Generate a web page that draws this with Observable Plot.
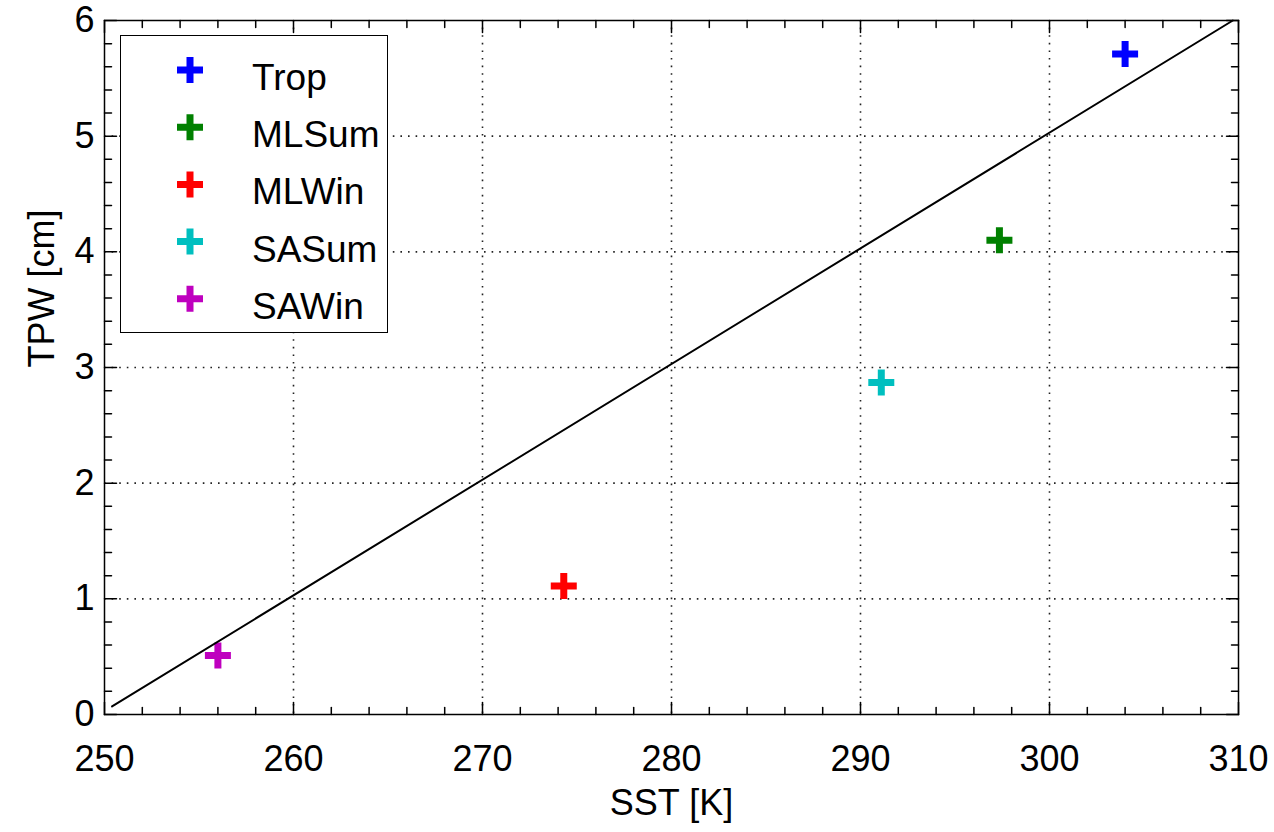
<!DOCTYPE html>
<html>
<head>
<meta charset="utf-8">
<script src="https://cdn.jsdelivr.net/npm/d3@7"></script>
<script src="https://cdn.jsdelivr.net/npm/@observablehq/plot@0.6"></script>
<style>
  html, body { margin: 0; padding: 0; background: #fff; }
  #wrap { position: relative; width: 1274px; height: 832px; font-family: "Liberation Sans", Arial, sans-serif; }
  #legend { position: absolute; left: 120px; top: 35px; width: 268px; height: 298px; box-sizing: border-box;
            border: 1.5px solid #000; background: #fff; }
  #legend svg { position: absolute; left: 0; top: 0; }
</style>
</head>
<body>
<div id="wrap"><div id="legend"></div></div>
<script>
// ---- data ----
const seriesNames  = ["Trop", "MLSum", "MLWin", "SASum", "SAWin"];
const seriesColors = ["#0000ff", "#008000", "#ff0000", "#00bfbf", "#bf00bf"];
const sstValues    = [304.0, 297.35, 274.3, 291.1, 256.0];   // SST [K]
const tpwValues    = [5.71, 4.10, 1.11, 2.87, 0.51];         // TPW [cm]

// fitted line end points
const fitSST = [250.4, 309.7];
const fitTPW = [0.07, 6.0];

// axis ticks
const xMajorTicks = [250, 260, 270, 280, 290, 300, 310];
const yMajorTicks = [0, 1, 2, 3, 4, 5, 6];
const xMinorTicks = [252, 254, 256, 258, 262, 264, 266, 268, 272, 274, 276, 278,
                     282, 284, 286, 288, 292, 294, 296, 298, 302, 304, 306, 308];
const yMinorTicks = [0.2, 0.4, 0.6, 0.8, 1.2, 1.4, 1.6, 1.8, 2.2, 2.4, 2.6, 2.8,
                     3.2, 3.4, 3.6, 3.8, 4.2, 4.4, 4.6, 4.8, 5.2, 5.4, 5.6, 5.8];
const xGridTicks = [260, 270, 280, 290, 300];
const yGridTicks = [1, 2, 3, 4, 5];
const xLabel = "SST [K]";
const yLabel = "TPW [cm]";

// ---- drawing helpers ----
const tickShape = { draw(ctx, l) { ctx.moveTo(0, 0); ctx.lineTo(0, -l); } };
const plusSymbol = { draw(ctx) { ctx.moveTo(-13, 0); ctx.lineTo(13, 0); ctx.moveTo(0, -13); ctx.lineTo(0, 13); } };
const xDomain = [xMajorTicks[0], xMajorTicks[xMajorTicks.length - 1]];
const yDomain = [yMajorTicks[0], yMajorTicks[yMajorTicks.length - 1]];
const pts = seriesNames.map((name, i) => ({ name, color: seriesColors[i], sst: sstValues[i], tpw: tpwValues[i] }));
const fit = fitSST.map((s, i) => ({ sst: s, tpw: fitTPW[i] }));

function sideTicks(values, len) {
  return [
    Plot.vector(values, { x: d => d, y: yDomain[0], rotate: 0, length: len, anchor: "start", shape: tickShape, stroke: "#000", strokeWidth: 1.5 }),
    Plot.vector(values, { x: d => d, y: yDomain[1], rotate: 180, length: len, anchor: "start", shape: tickShape, stroke: "#000", strokeWidth: 1.5 })
  ];
}
function sideTicksY(values, len) {
  return [
    Plot.vector(values, { x: xDomain[0], y: d => d, rotate: 90, length: len, anchor: "start", shape: tickShape, stroke: "#000", strokeWidth: 1.5 }),
    Plot.vector(values, { x: xDomain[1], y: d => d, rotate: -90, length: len, anchor: "start", shape: tickShape, stroke: "#000", strokeWidth: 1.5 })
  ];
}

const chart = Plot.plot({
  width: 1274,
  height: 832,
  marginLeft: 104,
  marginRight: 36,
  marginTop: 20,
  marginBottom: 118,
  style: { fontFamily: "Liberation Sans, Arial, sans-serif", fontSize: "36px", color: "#000", background: "#fff" },
  x: { domain: xDomain },
  y: { domain: yDomain },
  color: { type: "identity" },
  marks: [
    Plot.ruleX(xGridTicks, { x: d => d, stroke: "#222", strokeWidth: 1.6, strokeDasharray: "1.6 6" }),
    Plot.ruleY(yGridTicks, { y: d => d, stroke: "#222", strokeWidth: 1.6, strokeDasharray: "1.6 6" }),
    ...sideTicks(xMinorTicks, 7),
    ...sideTicks(xMajorTicks, 12),
    ...sideTicksY(yMinorTicks, 7),
    ...sideTicksY(yMajorTicks, 12),
    Plot.frame({ stroke: "#000", strokeWidth: 1.5 }),
    Plot.axisX(xMajorTicks, { tickSize: 0, tickPadding: 31, fontSize: 36, label: null, tickFormat: d => String(d) }),
    Plot.axisY(yMajorTicks, { tickSize: 0, tickPadding: 10, fontSize: 36, label: null, tickFormat: d => String(d) }),
    Plot.dot(pts, { x: "sst", y: "tpw", symbol: plusSymbol, stroke: "color", strokeWidth: 7, fill: "none" }),
    Plot.line(fit, { x: "sst", y: "tpw", stroke: "#000", strokeWidth: 2 }),
    Plot.text([xLabel], { frameAnchor: "bottom", dy: 100, lineAnchor: "bottom", fontSize: 36, text: d => d }),
    Plot.text([yLabel], { frameAnchor: "left", dx: -51, rotate: -90, lineAnchor: "bottom", fontSize: 36, text: d => d })
  ]
});
document.getElementById("wrap").insertBefore(chart, document.getElementById("legend"));
chart.style.display = "block";

// ---- legend (inside the plot area, upper left) ----
const lg = d3.select("#legend").append("svg").attr("width", 266).attr("height", 296);
const rowY = i => 34 + i * 57.2;
seriesNames.forEach((name, i) => {
  lg.append("path")
    .attr("d", `M${69 - 13},${rowY(i)}H${69 + 13}M69,${rowY(i) - 13}V${rowY(i) + 13}`)
    .attr("stroke", seriesColors[i]).attr("stroke-width", 7).attr("fill", "none");
  lg.append("text")
    .attr("x", 131).attr("y", rowY(i) + 20)
    .attr("font-family", "Liberation Sans, Arial, sans-serif").attr("font-size", 37)
    .text(name);
});
</script>
</body>
</html>
